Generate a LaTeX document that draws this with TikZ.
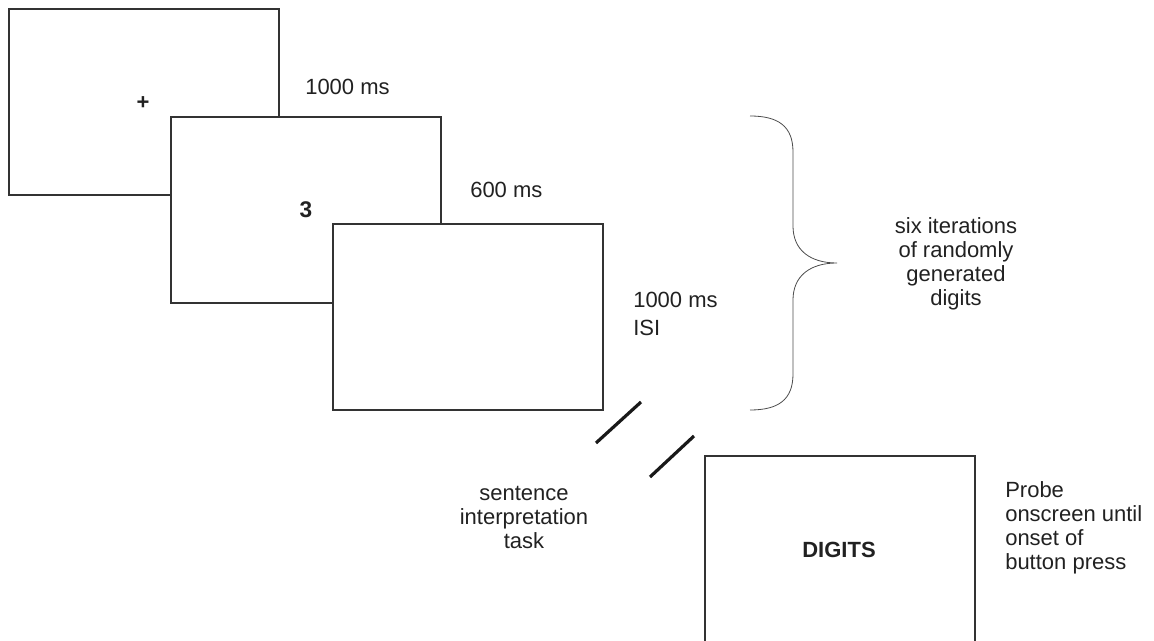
\documentclass[tikz,border=0pt]{standalone}
\usepackage{fontspec}
\setmainfont{Liberation Sans}
\begin{document}
\begin{tikzpicture}[x=0.75pt,y=-0.75pt,
  screen/.style={draw=black!80,line width=1.2pt,fill=white,minimum width=202.5pt,minimum height=139.5pt,inner sep=0pt,anchor=north west},
  lbl/.style={font=\fontsize{16.5}{18}\selectfont,text=black!87,inner sep=0pt,align=left},
  clbl/.style={lbl,align=center},
  big/.style={font=\fontsize{16.5}{18}\selectfont\bfseries,text=black!87,inner sep=0pt},
  slash/.style={line width=2.4pt,black!90},
  bracestyle/.style={draw=black!70,line width=0.6pt}]
\useasboundingbox (0,0) rectangle (1154,641);
\node[screen] (s1) at (8,8) {};
\node[screen] (s2) at (170,116) {};
\node[screen] (s3) at (332,223) {};
\node[screen] (s4) at (704,455) {};
\node[big] (plus) at (143,103) {+};
\node[big,font=\fontsize{17}{18}\selectfont\bfseries] (three) at (306,210) {3};
\node[big] (digits) at (839,550) {DIGITS};
\node[lbl,anchor=west] (t1) at (305,87) {1000 ms};
\node[lbl,anchor=west] (t2) at (470,190) {600 ms};
\node[lbl,anchor=west] (t3) at (633,314) {1000 ms\\[3pt]ISI};
\node[clbl] (six) at (956,264) {six iterations\\of randomly\\generated\\digits};
\node[clbl] (sent) at (524,517) {sentence\\interpretation\\task};
\node[lbl,anchor=west] (probe) at (1005,528) {Probe\\onscreen until\\onset of\\button press};
\coordinate (a1) at (596,443);
\coordinate (a2) at (641,402);
\coordinate (b1) at (650,477);
\coordinate (b2) at (694,436);
\draw[slash] (a1) -- (a2);
\draw[slash] (b1) -- (b2);
\coordinate (bt) at (750,116);
\coordinate (tip) at (837,263);
\coordinate (bb) at (750,410);
\draw[bracestyle] (bt) .. controls (778,116) and (793,126) .. (793,152)
  -- (793,226) .. controls (793,250) and (810,263) .. (tip)
  .. controls (810,263) and (793,276) .. (793,300)
  -- (793,374) .. controls (793,400) and (778,410) .. (bb);
\end{tikzpicture}
\end{document}
